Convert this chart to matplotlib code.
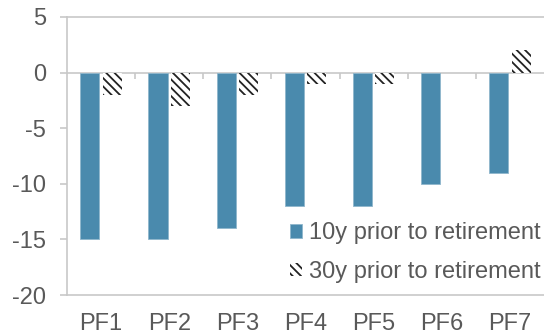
import matplotlib.pyplot as plt
import numpy as np

plt.rcParams['font.family'] = ['Liberation Sans', 'DejaVu Sans']
plt.rcParams['axes.unicode_minus'] = False
plt.rcParams['hatch.linewidth'] = 1.3

CATEGORIES = ['PF1', 'PF2', 'PF3', 'PF4', 'PF5', 'PF6', 'PF7']
TEN_Y = [-15, -15, -14, -12, -12, -10, -9]
THIRTY_Y = [-2, -3, -2, -1, -1, 0, 2]
LABELS = ['10y prior to retirement', '30y prior to retirement']

BLUE = '#4a8aad'
GRAY = '#595959'
LINE = '#c8c8c8'

fig = plt.figure(figsize=(5.44, 3.30), dpi=100)
ax = fig.add_axes([67 / 544, 1 - 295 / 330, 477 / 544, 278 / 330])

x = np.arange(len(CATEGORIES))
width = 0.28
ax.bar(x - 0.165, TEN_Y, width, color=BLUE, edgecolor='#8fb6cc',
       linewidth=0.6, label=LABELS[0])
ax.bar(x + 0.165, THIRTY_Y, width, color='white', edgecolor='#222222',
       hatch='\\\\\\\\', linewidth=0, label=LABELS[1])

# zero line with category separators
ax.axhline(0, color=LINE, linewidth=1.2, zorder=0.5)
ax.vlines(x[:-1] + 0.5, -0.6, 0, color=LINE, linewidth=1.2)

ax.set_xlim(-0.5, len(CATEGORIES) - 0.5)
ax.set_ylim(-20, 5)
ax.set_yticks(np.arange(-20, 6, 5))
ax.set_xticks(x)
ax.set_xticklabels(CATEGORIES)

for side in ('left', 'top', 'bottom'):
    ax.spines[side].set_color(LINE)
    ax.spines[side].set_linewidth(1.2)
ax.spines['right'].set_visible(False)

ax.tick_params(axis='x', length=0, pad=13, labelsize=17, labelcolor=GRAY)
ax.tick_params(axis='y', length=5, width=1.2, color=LINE, pad=10,
               labelsize=17, labelcolor=GRAY)

ax.legend(loc='upper left', bbox_to_anchor=(0.468, 0.262), frameon=False,
          fontsize=17, labelcolor=GRAY, handlelength=0.5, handleheight=0.5,
          handletextpad=0.3, labelspacing=0.7, borderpad=0, borderaxespad=0)

fig.savefig('out.png', dpi=100)
